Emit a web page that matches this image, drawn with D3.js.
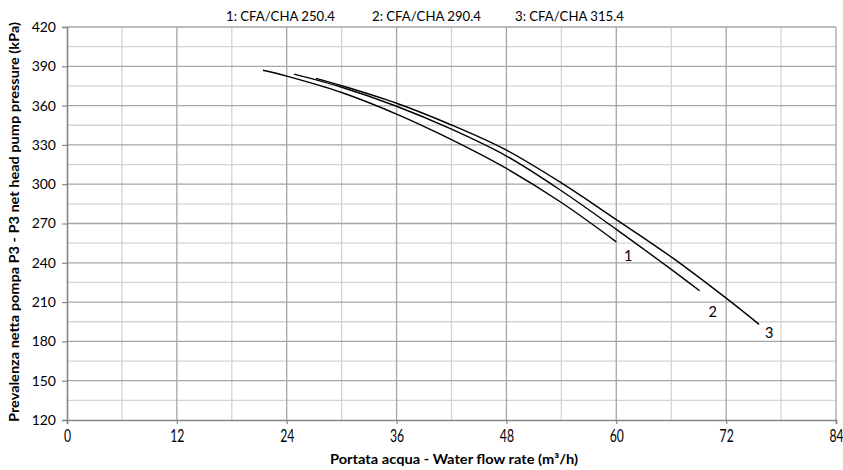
<!DOCTYPE html>
<html>
<head>
<meta charset="utf-8">
<script src="https://cdn.jsdelivr.net/npm/d3@7"></script>
<style>
  html, body { margin: 0; padding: 0; background: #fff; }
  svg { display: block; }
  text { font-family: Lato, "Open Sans", "Liberation Sans", sans-serif; fill: #000; }
</style>
</head>
<body>
<svg id="chart" width="843" height="470"></svg>
<script>
// ---- data ----
const seriesNames = ["1: CFA/CHA 250.4", "2: CFA/CHA 290.4", "3: CFA/CHA 315.4"];
const seriesTags = ["1", "2", "3"];
// flow (m3/h) and pressure (kPa)
const flow1 = [21.4, 24, 30, 36, 42, 48, 54, 60];
const head1 = [387, 382.5, 370, 353.5, 334, 312, 286, 256];
const flow2 = [24.8, 30, 36, 42, 48, 54, 60, 66, 69.1];
const head2 = [384, 374, 359.5, 342, 321.5, 295, 265.5, 235, 218.7];
const flow3 = [27.2, 30, 36, 42, 48, 54, 60, 66, 72, 75.6];
const head3 = [380.8, 375.2, 361.8, 345.2, 326, 301, 273, 244.5, 213, 193];
const xTicks = [0, 12, 24, 36, 48, 60, 72, 84];
const yTicks = [120, 150, 180, 210, 240, 270, 300, 330, 360, 390, 420];
const xTitle = "Portata acqua - Water flow rate (m³/h)";
const yTitle = "Prevalenza netta pompa P3 - P3 net head pump pressure (kPa)";

const flows = [flow1, flow2, flow3];
const heads = [head1, head2, head3];

// ---- layout ----
const svg = d3.select("#chart");
const L = 67, R = 836, T = 27, B = 420;
const x = d3.scaleLinear().domain([0, 84]).range([L, R]);
const y = d3.scaleLinear().domain([120, 420]).range([B, T]);

// minor grid
const g = svg.append("g");
g.selectAll("line.vminor").data(d3.range(6, 84, 12)).join("line")
  .attr("x1", d => x(d)).attr("x2", d => x(d)).attr("y1", T).attr("y2", B)
  .attr("stroke", "#d4d4d4").attr("stroke-width", 1.3);
g.selectAll("line.hminor").data(d3.range(135, 420, 30)).join("line")
  .attr("x1", L).attr("x2", R).attr("y1", d => y(d)).attr("y2", d => y(d))
  .attr("stroke", "#d4d4d4").attr("stroke-width", 1.3);
// major grid
g.selectAll("line.vmajor").data(xTicks.slice(1)).join("line")
  .attr("x1", d => x(d)).attr("x2", d => x(d)).attr("y1", T).attr("y2", B)
  .attr("stroke", "#a6a6a6").attr("stroke-width", 1.3);
g.selectAll("line.hmajor").data(yTicks.slice(1)).join("line")
  .attr("x1", L).attr("x2", R).attr("y1", d => y(d)).attr("y2", d => y(d))
  .attr("stroke", "#a6a6a6").attr("stroke-width", 1.3);

// axes
const yAxis = svg.append("g").attr("transform", `translate(${L},0)`)
  .call(d3.axisLeft(y).tickValues(yTicks).tickSize(5).tickPadding(6));
const xAxis = svg.append("g").attr("transform", `translate(0,${B})`)
  .call(d3.axisBottom(x).tickValues(xTicks).tickSize(4).tickPadding(6));
[xAxis, yAxis].forEach(a => {
  a.select(".domain").attr("stroke", "#868686").attr("stroke-width", 1.6);
  a.selectAll(".tick line").attr("stroke", "#868686").attr("stroke-width", 1.2);
  a.selectAll(".tick text").attr("font-family", "Lato, 'Open Sans', sans-serif")
    .attr("fill", "#000");
});
yAxis.selectAll(".tick text").attr("font-size", 14);
xAxis.selectAll(".tick text").attr("font-size", 16.5).attr("x", 0)
  .attr("transform", "scale(0.74,1)");

// curves
const line = d3.line().x(d => x(d[0])).y(d => y(d[1])).curve(d3.curveCatmullRom.alpha(0.5));
const tagOffset = [[12, 19], [13, 26], [10, 14]];
flows.forEach((f, i) => {
  const pts = f.map((v, j) => [v, heads[i][j]]);
  svg.append("path").datum(pts).attr("d", line)
    .attr("fill", "none").attr("stroke", "#000").attr("stroke-width", 1.4);
  const last = pts[pts.length - 1];
  svg.append("text").attr("x", x(last[0]) + tagOffset[i][0]).attr("y", y(last[1]) + tagOffset[i][1])
    .attr("text-anchor", "middle").attr("font-size", 14.5).text(seriesTags[i]);
});

// legend across the top
const legendX = [226, 372, 515];
seriesNames.forEach((s, i) => {
  svg.append("text").attr("x", legendX[i]).attr("y", 21)
    .attr("font-size", 13.5).attr("fill", "#1a1a1a")
    .attr("textLength", 109).attr("lengthAdjust", "spacingAndGlyphs").text(s);
});

// axis titles
svg.append("text").attr("x", 454).attr("y", 464)
  .attr("text-anchor", "middle").attr("font-size", 13.5).attr("font-weight", "bold")
  .attr("textLength", 248).attr("lengthAdjust", "spacingAndGlyphs")
  .text(xTitle);
svg.append("text").attr("transform", `translate(19,${222}) rotate(-90)`)
  .attr("text-anchor", "middle").attr("font-size", 13.5).attr("font-weight", "bold")
  .attr("textLength", 400).attr("lengthAdjust", "spacingAndGlyphs")
  .text(yTitle);
</script>
</body>
</html>
